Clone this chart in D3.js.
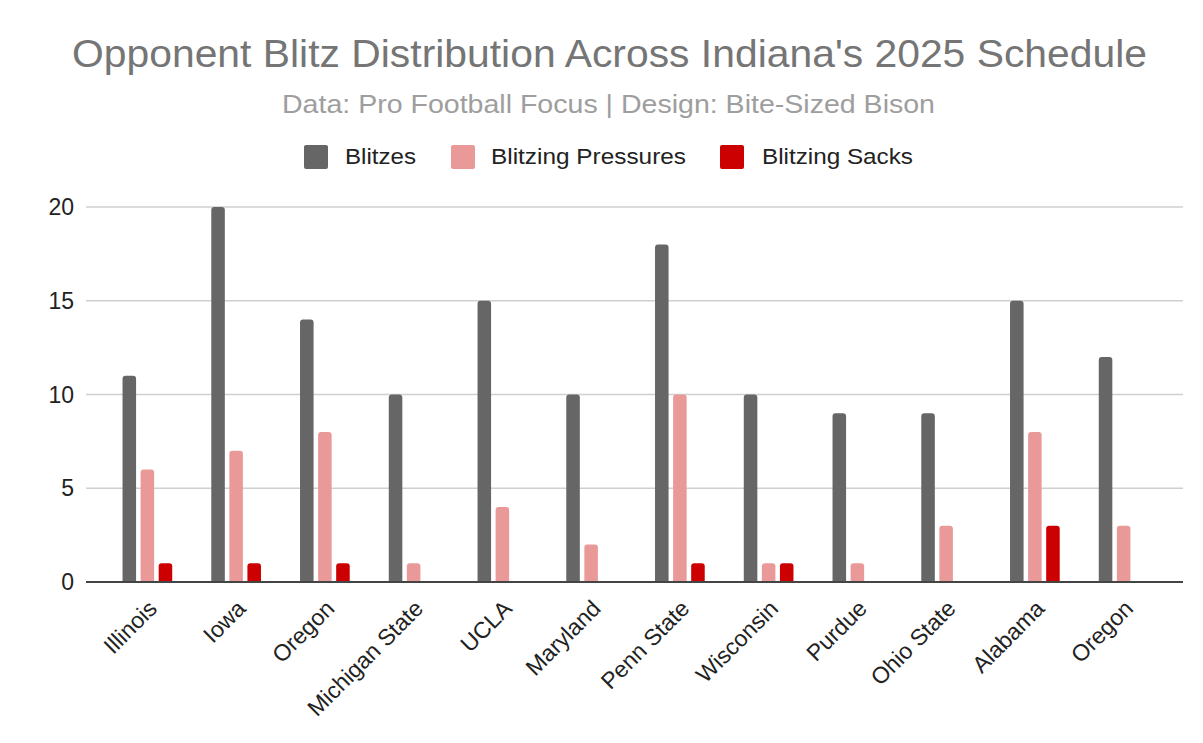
<!DOCTYPE html>
<html lang="en">
<head>
<meta charset="utf-8">
<script src="https://cdn.jsdelivr.net/npm/d3@7"></script>
<style>
  body { margin: 0; background: #fff; }
  text { font-family: "Liberation Sans", Arial, sans-serif; }
</style>
</head>
<body>
<script>
  // Data points
  const teams = ["Illinois", "Iowa", "Oregon", "Michigan State", "UCLA", "Maryland",
                 "Penn State", "Wisconsin", "Purdue", "Ohio State", "Alabama", "Oregon"]
  const blitzes   = [11, 20, 14, 10, 15, 10, 18, 10, 9, 9, 15, 12]
  const pressures = [6, 7, 8, 1, 4, 2, 10, 1, 1, 3, 8, 3]
  const sacks     = [1, 1, 1, 0, 0, 0, 1, 1, 0, 0, 3, 0]
  const seriesNames = ["Blitzes", "Blitzing Pressures", "Blitzing Sacks"]
  const yTicks = [0, 5, 10, 15, 20]

  const colors = ["#666666", "#ea9999", "#cc0000"]
  const w = 1203, h = 743

  const svg = d3.select('body').append('svg')
      .attr('width', w).attr('height', h)

  // title + subtitle (the reference text is set a bit wider than plain Arial)
  svg.append('text').attr('x', 72).attr('y', 67)
      .attr('fill', '#757575').style('font-size', '39px')
      .attr('textLength', 1075).attr('lengthAdjust', 'spacingAndGlyphs')
      .text("Opponent Blitz Distribution Across Indiana's 2025 Schedule")
  svg.append('text').attr('x', 282).attr('y', 113)
      .attr('fill', '#9e9e9e').style('font-size', '25px')
      .attr('textLength', 653).attr('lengthAdjust', 'spacingAndGlyphs')
      .text("Data: Pro Football Focus | Design: Bite-Sized Bison")

  // legend
  const legendX = [304, 451, 720]
  const legendTextX = [41, 40, 42]
  const legendLen = [71, 195, 151]
  const legend = svg.selectAll('g.legend').data(seriesNames).enter()
      .append('g').attr('class', 'legend')
      .attr('transform', (d, i) => 'translate(' + legendX[i] + ',145)')
  legend.append('rect').attr('width', 24).attr('height', 24).attr('rx', 2)
      .attr('fill', (d, i) => colors[i])
  legend.append('text').attr('x', (d, i) => legendTextX[i]).attr('y', 19)
      .attr('fill', '#222').style('font-size', '22px')
      .attr('textLength', (d, i) => legendLen[i]).attr('lengthAdjust', 'spacingAndGlyphs')
      .text(d => d)

  // scales
  const y = d3.scaleLinear().domain([0, 20]).range([582, 207])
  const x0 = d3.scaleBand().domain(d3.range(teams.length))
      .range([103, 1168]).paddingInner(0.44).paddingOuter(0.22)
  const x1 = d3.scaleBand().domain([0, 1, 2]).range([0, x0.bandwidth()]).paddingInner(0.25)

  // gridlines and y labels
  svg.selectAll('line.grid').data(yTicks.slice(1)).enter()
      .append('line').attr('class', 'grid')
      .attr('x1', 86).attr('x2', 1183)
      .attr('y1', d => y(d)).attr('y2', d => y(d))
      .attr('stroke', '#d0d0d0').attr('stroke-width', 1.5)
  svg.selectAll('text.ytick').data(yTicks).enter()
      .append('text').attr('class', 'ytick')
      .attr('x', 74).attr('y', d => y(d) + 8)
      .attr('text-anchor', 'end').attr('fill', '#222')
      .style('font-size', '23px').text(d => d)

  // bars
  const series = [blitzes, pressures, sacks]
  const groups = svg.selectAll('g.team').data(teams).enter()
      .append('g').attr('class', 'team')
      .attr('transform', (d, i) => 'translate(' + x0(i) + ',0)')
  groups.selectAll('rect').data((d, i) => series.map((s, k) => ({k: k, v: s[i]})))
      .enter().filter(d => d.v > 0).append('rect')
      .attr('x', d => x1(d.k)).attr('width', x1.bandwidth())
      .attr('y', d => y(d.v)).attr('height', d => y(0) - y(d.v) + 3)
      .attr('rx', 3)
      .attr('fill', d => colors[d.k])

  // baseline
  svg.append('rect').attr('x', 86).attr('y', y(0) + 1).attr('width', 1097).attr('height', 6).attr('fill', '#fff')
  svg.append('line').attr('x1', 86).attr('x2', 1183)
      .attr('y1', y(0)).attr('y2', y(0))
      .attr('stroke', '#444').attr('stroke-width', 2)

  // x labels
  svg.selectAll('text.xtick').data(teams).enter()
      .append('text').attr('class', 'xtick')
      .attr('transform', (d, i) => 'translate(' + (x0(i) + x0.bandwidth() / 2 + 11) + ',610) rotate(-45)')
      .attr('text-anchor', 'end').attr('fill', '#222')
      .style('font-size', '23px').text(d => d)
</script>
</body>
</html>
